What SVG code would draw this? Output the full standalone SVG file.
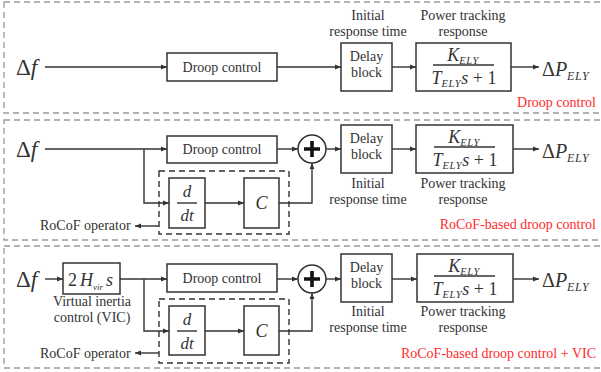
<svg xmlns="http://www.w3.org/2000/svg" width="601" height="372" viewBox="0 0 601 372">
<style>
.panel{fill:none;stroke:#9a9a9a;stroke-width:1.3;stroke-dasharray:6 4}
.box{fill:#fff;stroke:#333;stroke-width:1.5}
.inner{fill:none;stroke:#333;stroke-width:1.4;stroke-dasharray:6 4}
.ln{fill:none;stroke:#333;stroke-width:1.4}
.lbl{font-family:"Liberation Serif","DejaVu Serif","Times New Roman",serif;font-size:14px;fill:#333}
.mid{text-anchor:middle}
.red{font-family:"Liberation Serif","DejaVu Serif","Times New Roman",serif;font-size:14px;fill:#ff2b2b;text-anchor:end}
.math{font-family:"Liberation Serif","DejaVu Serif","Times New Roman",serif;fill:#333}
.it{font-style:italic}
.sub{font-style:italic;font-size:10.5px;letter-spacing:0.6px}
.osub{font-style:italic;font-size:12px;letter-spacing:0.6px}
</style>
<defs>
<marker id="ah" viewBox="0 0 10 10" refX="10" refY="5" markerWidth="6" markerHeight="6" orient="auto" markerUnits="userSpaceOnUse">
<path d="M0,1 L10,5 L0,9 z" fill="#333"/>
</marker>
</defs>

<!-- panels -->
<g id="panels">
<rect class="panel" x="4" y="2" width="602" height="111"/>
<rect class="panel" x="4" y="120" width="602" height="120"/>
<rect class="panel" x="4" y="246" width="602" height="122"/>
<rect class="inner" x="159" y="171" width="130" height="63"/>
<rect class="inner" x="159" y="299" width="130" height="64"/>
</g>

<!-- ===== Panel 1 ===== -->
<g id="p1-input"><text class="math" x="16" y="75" font-size="23">Δ<tspan class="it">f</tspan></text></g>
<g id="p1-droop"><rect class="box" x="167" y="53" width="110" height="28"/><text class="lbl mid" x="222" y="72">Droop control</text></g>
<g id="p1-delay"><rect class="box" x="341" y="43" width="51" height="48"/><text class="lbl mid" x="366.5" y="61">Delay</text><text class="lbl mid" x="366.5" y="77">block</text>
<text class="lbl mid" x="368" y="20">Initial</text><text class="lbl mid" x="368" y="36">response time</text></g>
<g id="p1-power"><rect class="box" x="416" y="43" width="95" height="48"/>
<text class="math mid" x="463" y="61"><tspan class="it" font-size="18">K</tspan><tspan class="sub" dy="3">ELY</tspan></text>
<line class="ln" x1="433" y1="65" x2="494" y2="65" stroke-width="1"/>
<text class="math mid" x="464" y="84"><tspan class="it" font-size="18">T</tspan><tspan class="sub" dy="3">ELY</tspan><tspan class="it" font-size="18" dy="-3">s</tspan><tspan font-size="18"> + 1</tspan></text>
<text class="lbl mid" x="463" y="20">Power tracking</text><text class="lbl mid" x="463" y="36">response</text></g>
<g id="p1-output"><text class="math" x="542" y="76" font-size="20">Δ<tspan class="it">P</tspan><tspan class="osub" dy="4">ELY</tspan></text></g>
<text class="red" x="596" y="107">Droop control</text>

<!-- ===== Panel 2 ===== -->
<g id="p2-input"><text class="math" x="16" y="157" font-size="23">Δ<tspan class="it">f</tspan></text></g>
<g id="p2-droop"><rect class="box" x="167" y="136" width="110" height="27"/><text class="lbl mid" x="222" y="154">Droop control</text></g>
<g id="p2-ddt"><rect class="box" x="169" y="178" width="36" height="50"/>
<text class="math it mid" x="187" y="197" font-size="17">d</text><line class="ln" x1="177" y1="203" x2="197" y2="203" stroke-width="1"/><text class="math it mid" x="187" y="221" font-size="17">dt</text></g>
<g id="p2-c"><rect class="box" x="244" y="178" width="35" height="50"/><text class="math it mid" x="261.5" y="209" font-size="18">C</text></g>
<g id="p2-sum"><circle cx="312" cy="149" r="14" fill="#fff" stroke="#333" stroke-width="1.5"/><path d="M304,149 H320 M312,141 V157" stroke="#111" stroke-width="3.6"/></g>
<g id="p2-delay"><rect class="box" x="341" y="125" width="51" height="48"/><text class="lbl mid" x="366.5" y="143">Delay</text><text class="lbl mid" x="366.5" y="159">block</text>
<text class="lbl mid" x="368" y="188">Initial</text><text class="lbl mid" x="368" y="204">response time</text></g>
<g id="p2-power"><rect class="box" x="416" y="125" width="97" height="48"/>
<text class="math mid" x="464" y="143"><tspan class="it" font-size="18">K</tspan><tspan class="sub" dy="3">ELY</tspan></text>
<line class="ln" x1="434" y1="147" x2="495" y2="147" stroke-width="1"/>
<text class="math mid" x="465" y="166"><tspan class="it" font-size="18">T</tspan><tspan class="sub" dy="3">ELY</tspan><tspan class="it" font-size="18" dy="-3">s</tspan><tspan font-size="18"> + 1</tspan></text>
<text class="lbl mid" x="463" y="188">Power tracking</text><text class="lbl mid" x="463" y="204">response</text></g>
<g id="p2-output"><text class="math" x="542" y="158" font-size="20">Δ<tspan class="it">P</tspan><tspan class="osub" dy="4">ELY</tspan></text></g>
<g id="p2-rocof"><text class="lbl" x="40" y="230">RoCoF operator</text></g>
<text class="red" x="596" y="229">RoCoF-based droop control</text>

<!-- ===== Panel 3 ===== -->
<g id="p3-input"><text class="math" x="16" y="287" font-size="23">Δ<tspan class="it">f</tspan></text></g>
<g id="p3-vic"><rect class="box" x="63" y="263" width="57" height="31"/>
<text class="math" x="68" y="286" font-size="18">2<tspan class="it" dx="3">H</tspan><tspan class="it" font-size="9" dy="4">vir</tspan><tspan class="it" font-size="18" dy="-4" dx="3">s</tspan></text>
<text class="lbl mid" x="92" y="306">Virtual inertia</text><text class="lbl mid" x="92" y="322">control (VIC)</text></g>
<g id="p3-droop"><rect class="box" x="167" y="264" width="110" height="28"/><text class="lbl mid" x="222" y="283">Droop control</text></g>
<g id="p3-ddt"><rect class="box" x="169" y="306" width="36" height="49"/>
<text class="math it mid" x="187" y="325" font-size="17">d</text><line class="ln" x1="177" y1="331" x2="197" y2="331" stroke-width="1"/><text class="math it mid" x="187" y="349" font-size="17">dt</text></g>
<g id="p3-c"><rect class="box" x="244" y="306" width="35" height="49"/><text class="math it mid" x="261.5" y="337" font-size="18">C</text></g>
<g id="p3-sum"><circle cx="312" cy="279" r="14" fill="#fff" stroke="#333" stroke-width="1.5"/><path d="M304,279 H320 M312,271 V287" stroke="#111" stroke-width="3.6"/></g>
<g id="p3-delay"><rect class="box" x="341" y="254" width="51" height="48"/><text class="lbl mid" x="366.5" y="272">Delay</text><text class="lbl mid" x="366.5" y="288">block</text>
<text class="lbl mid" x="368" y="316">Initial</text><text class="lbl mid" x="368" y="332">response time</text></g>
<g id="p3-power"><rect class="box" x="417" y="254" width="96" height="48"/>
<text class="math mid" x="464" y="272"><tspan class="it" font-size="18">K</tspan><tspan class="sub" dy="3">ELY</tspan></text>
<line class="ln" x1="434" y1="276" x2="495" y2="276" stroke-width="1"/>
<text class="math mid" x="465" y="295"><tspan class="it" font-size="18">T</tspan><tspan class="sub" dy="3">ELY</tspan><tspan class="it" font-size="18" dy="-3">s</tspan><tspan font-size="18"> + 1</tspan></text>
<text class="lbl mid" x="463" y="316">Power tracking</text><text class="lbl mid" x="463" y="332">response</text></g>
<g id="p3-output"><text class="math" x="542" y="287" font-size="20">Δ<tspan class="it">P</tspan><tspan class="osub" dy="4">ELY</tspan></text></g>
<g id="p3-rocof"><text class="lbl" x="40" y="358">RoCoF operator</text></g>
<text class="red" x="596" y="358">RoCoF-based droop control + VIC</text>

<!-- connectors -->
<g id="connectors">
<line class="ln" x1="45" y1="67" x2="167" y2="67" marker-end="url(#ah)"/>
<line class="ln" x1="277" y1="67" x2="341" y2="67" marker-end="url(#ah)"/>
<line class="ln" x1="392" y1="67" x2="416" y2="67" marker-end="url(#ah)"/>
<line class="ln" x1="511" y1="67" x2="539" y2="67" marker-end="url(#ah)"/>

<line class="ln" x1="45" y1="149" x2="167" y2="149" marker-end="url(#ah)"/>
<polyline class="ln" points="144,149 144,203 169,203" marker-end="url(#ah)"/>
<line class="ln" x1="205" y1="203" x2="244" y2="203" marker-end="url(#ah)"/>
<polyline class="ln" points="279,203 312,203 312,163" marker-end="url(#ah)"/>
<line class="ln" x1="277" y1="149" x2="298" y2="149" marker-end="url(#ah)"/>
<line class="ln" x1="326" y1="149" x2="341" y2="149" marker-end="url(#ah)"/>
<line class="ln" x1="392" y1="149" x2="416" y2="149" marker-end="url(#ah)"/>
<line class="ln" x1="513" y1="149" x2="539" y2="149" marker-end="url(#ah)"/>
<line class="ln" x1="159" y1="226" x2="135" y2="226" marker-end="url(#ah)"/>

<line class="ln" x1="45" y1="279" x2="63" y2="279" marker-end="url(#ah)"/>
<line class="ln" x1="120" y1="279" x2="167" y2="279" marker-end="url(#ah)"/>
<polyline class="ln" points="144,279 144,331 169,331" marker-end="url(#ah)"/>
<line class="ln" x1="205" y1="331" x2="244" y2="331" marker-end="url(#ah)"/>
<polyline class="ln" points="279,331 312,331 312,293" marker-end="url(#ah)"/>
<line class="ln" x1="277" y1="279" x2="298" y2="279" marker-end="url(#ah)"/>
<line class="ln" x1="326" y1="279" x2="341" y2="279" marker-end="url(#ah)"/>
<line class="ln" x1="392" y1="279" x2="417" y2="279" marker-end="url(#ah)"/>
<line class="ln" x1="513" y1="279" x2="539" y2="279" marker-end="url(#ah)"/>
<line class="ln" x1="159" y1="353" x2="135" y2="353" marker-end="url(#ah)"/>
</g>
</svg>
